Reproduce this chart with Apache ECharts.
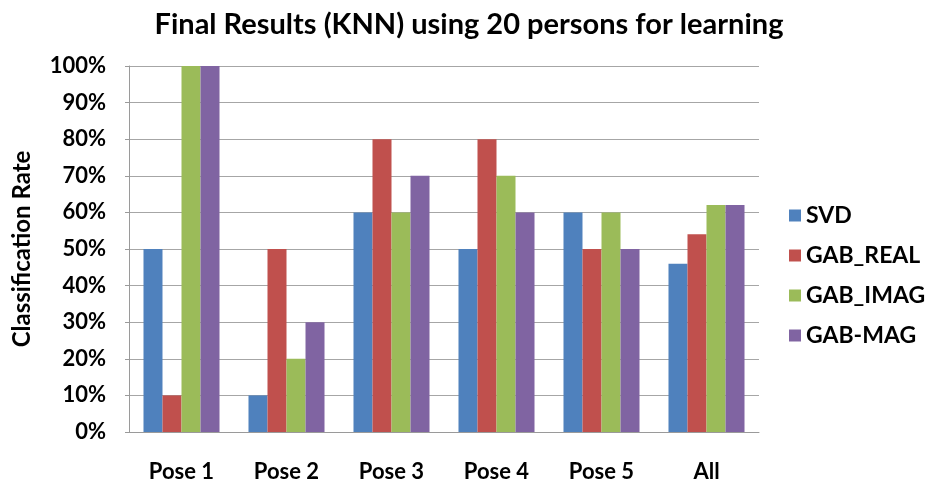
<!DOCTYPE html>
<html>
<head>
<meta charset="utf-8">
<script src="https://cdn.jsdelivr.net/npm/echarts@6/dist/echarts.min.js"></script>
<style>
  html, body { margin: 0; padding: 0; background: #fff; }
  #chart { width: 931px; height: 485px; }
</style>
</head>
<body>
<div id="chart"></div>
<script>
// Classification rate (%) per pose for each feature extractor
const categories = ['Pose 1', 'Pose 2', 'Pose 3', 'Pose 4', 'Pose 5', 'All'];
const svd      = [50, 10, 60, 50, 60, 46];
const gabReal  = [10, 50, 80, 80, 50, 54];
const gabImag  = [100, 20, 60, 70, 60, 62];
const gabMag   = [100, 30, 70, 60, 50, 62];
const seriesNames = ['SVD', 'GAB_REAL', 'GAB_IMAG', 'GAB-MAG'];
const seriesValues = [svd, gabReal, gabImag, gabMag];
const colors = ['#4F81BD', '#C0504D', '#9BBB59', '#8064A2'];

const FONT = 'Lato';
const chart = echarts.init(document.getElementById('chart'));

chart.setOption({
  animation: false,
  title: {
    text: 'Final Results (KNN) using 20 persons for learning',
    left: 464, textAlign: 'center', top: 5,
    textStyle: { fontFamily: FONT, fontWeight: 'bold', fontSize: 29, color: '#000' }
  },
  legend: {
    orient: 'vertical',
    left: 784, top: 199,
    itemWidth: 12, itemHeight: 12, itemGap: 17,
    icon: 'rect',
    textStyle: { fontFamily: FONT, fontWeight: 'bold', fontSize: 23, color: '#000' },
    data: seriesNames
  },
  grid: { left: 129, right: 172, top: 66, bottom: 53, containLabel: false },
  xAxis: {
    type: 'category',
    data: categories,
    axisLine: { lineStyle: { color: '#9a9a9a', width: 1 } },
    axisTick: { show: false },
    axisLabel: { fontFamily: FONT, fontWeight: 'bold', fontSize: 22, color: '#000', margin: 29 }
  },
  yAxis: {
    type: 'value',
    min: 0, max: 100, interval: 10,
    name: 'Classification Rate',
    nameLocation: 'middle',
    nameGap: 95,
    nameTextStyle: { fontFamily: FONT, fontWeight: 'bold', fontSize: 24, color: '#000' },
    axisLine: { show: true, lineStyle: { color: '#9a9a9a', width: 1 } },
    axisTick: { show: true, length: 4, lineStyle: { color: '#9a9a9a' } },
    axisLabel: {
      fontFamily: FONT, fontWeight: 'bold', fontSize: 22, color: '#000', margin: 23,
      formatter: v => v + '%'
    },
    splitLine: { lineStyle: { color: '#a6a6a6', width: 1 } }
  },
  series: seriesNames.map((name, i) => ({
    name,
    type: 'bar',
    data: seriesValues[i],
    barGap: '0%',
    barCategoryGap: '27.6%',
    itemStyle: { color: colors[i] }
  }))
});
</script>
</body>
</html>
